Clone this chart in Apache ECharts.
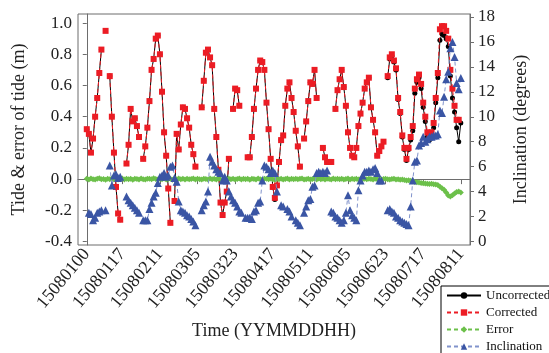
<!DOCTYPE html>
<html>
<head>
<meta charset="utf-8">
<script src="https://cdn.jsdelivr.net/npm/echarts@6/dist/echarts.min.js"></script>
<style>html,body{margin:0;padding:0;background:#fff;}#c{width:549px;height:353px;}</style>
</head>
<body>
<div id="c"></div>
<script>
// hourly samples, index = hours after 15080100
const xTickLabels = ['15080100','15080117','15080211','15080305','15080323','15080417','15080511','15080605','15080623','15080717','15080811'];
const leftTicks = [-0.4,-0.2,0.0,0.2,0.4,0.6,0.8,1.0];
const rightTicks = [0,2,4,6,8,10,12,14,16,18];

const corrected = [
0.32,0.29,0.17,0.26,0.40,0.52,0.68,0.83,null,0.95,
null,0.66,0.40,0.17,-0.05,-0.22,-0.26,null,null,0.10,
0.22,0.45,0.37,0.39,0.34,0.27,null,0.13,0.21,0.33,
0.50,0.70,0.77,0.90,0.92,0.80,0.56,0.30,0.15,-0.06,
-0.28,null,-0.14,0.29,0.19,0.35,0.46,0.45,0.39,0.33,
0.22,0.16,0.08,null,null,0.46,0.63,0.81,0.83,0.78,
0.73,0.45,0.27,0.06,-0.15,-0.23,-0.15,-0.08,0.13,null,
0.45,0.58,0.57,0.47,null,null,null,0.14,0.14,0.27,
0.45,0.58,0.70,0.76,0.75,0.70,0.49,0.32,0.13,-0.05,
-0.12,-0.04,0.11,0.25,0.28,0.47,0.58,0.62,0.52,0.43,
0.31,0.21,0.08,null,0.26,0.37,0.50,0.62,0.61,0.70,
0.52,null,null,0.20,0.14,0.11,0.11,0.11,null,0.45,
0.57,0.64,0.70,0.59,0.47,0.30,0.20,0.15,0.14,0.20,
0.34,0.42,0.49,0.58,0.62,0.65,0.46,0.38,0.30,0.15,
0.18,0.21,0.24,null,0.66,0.78,0.80,0.76,0.71,0.52,
0.43,0.28,0.20,0.13,0.20,0.27,0.34,0.58,0.64,0.67,
0.61,0.49,0.40,0.30,0.28,0.30,0.36,0.52,0.68,0.96,
0.98,0.98,0.95,0.90,0.70,0.58,0.47,0.38,0.38,null
];
const uncorrected = [
0.32,0.29,0.17,0.26,0.40,0.52,0.68,0.83,null,null,
null,0.66,0.40,0.17,-0.05,-0.22,-0.26,null,null,0.10,
0.22,0.45,0.37,0.39,0.34,0.27,null,0.13,0.21,0.33,
0.50,0.70,0.77,0.90,0.92,0.80,0.56,0.30,0.15,-0.06,
-0.28,null,-0.14,0.29,0.19,0.35,0.46,0.45,0.39,0.33,
0.22,0.16,0.08,null,null,0.46,0.63,0.81,0.83,0.78,
0.73,0.45,0.27,0.06,-0.15,-0.23,-0.15,-0.08,0.13,null,
0.45,0.58,0.57,0.47,null,null,null,0.14,0.14,0.27,
0.45,0.58,0.70,0.76,0.75,0.70,0.49,0.32,0.13,-0.05,
-0.13,-0.04,0.11,0.25,0.28,0.47,0.58,0.62,0.52,0.43,
0.31,0.21,0.08,null,0.26,0.37,0.50,0.62,0.61,0.70,
0.52,null,null,0.20,0.14,0.11,0.11,0.11,null,0.45,
0.57,0.64,0.70,0.59,0.47,0.30,0.20,0.15,0.14,0.20,
0.34,0.42,0.49,0.58,0.62,0.65,0.46,0.38,0.30,0.15,
0.18,0.21,0.24,null,0.65,0.77,0.79,0.75,0.70,0.51,
0.42,0.27,0.19,0.12,0.19,0.25,0.31,0.55,0.62,0.65,
0.58,0.46,0.37,0.27,0.25,0.27,0.33,0.49,0.65,0.89,
0.93,0.92,0.90,0.85,0.66,0.52,0.43,0.33,0.24,0.36
];
const error = [
0.003,-0.002,0.004,0.000,-0.003,0.002,0.005,-0.001,0.001,-0.004,
0.002,0.000,0.004,-0.002,0.003,-0.003,0.001,0.004,-0.002,0.002,
0.000,0.003,-0.004,0.002,0.001,-0.002,0.004,0.000,-0.003,0.003,
0.002,-0.001,0.005,0.001,-0.003,0.002,0.000,0.004,-0.002,0.001,
0.003,-0.004,0.002,0.000,0.004,-0.001,0.002,-0.003,0.003,0.000,
0.001,0.004,-0.002,0.002,0.000,-0.003,0.003,0.001,-0.002,0.004,
0.000,0.002,-0.003,0.003,0.001,-0.002,0.004,0.000,0.002,-0.001,
0.003,-0.003,0.001,0.004,-0.002,0.002,0.000,0.003,-0.004,0.002,
0.001,-0.002,0.004,0.000,-0.003,0.003,0.002,-0.001,0.004,0.000,
-0.004,0.002,0.000,0.003,-0.002,0.001,0.004,-0.003,0.002,0.000,
0.003,-0.001,0.002,0.004,-0.002,0.000,0.003,-0.003,0.001,0.002,
-0.002,0.004,0.000,0.002,-0.003,0.003,0.001,-0.002,0.004,0.000,
0.002,-0.001,0.003,-0.003,0.001,0.004,-0.002,0.002,0.000,0.003,
-0.002,0.002,0.000,0.003,-0.001,0.002,0.001,-0.002,0.003,0.000,
0.002,-0.002,0.001,0.003,0.000,-0.002,0.001,0.002,-0.003,0.000,
-0.004,-0.003,-0.006,-0.008,-0.007,-0.010,-0.014,-0.018,-0.020,-0.022,
-0.025,-0.027,-0.028,-0.030,-0.031,-0.030,-0.033,-0.035,-0.038,-0.048,
-0.058,-0.068,-0.085,-0.105,-0.112,-0.104,-0.092,-0.083,-0.080,-0.086
];
const inclination = [
null,2.3,2.2,1.7,1.9,2.3,2.4,2.5,null,2.5,
null,6.1,4.5,5.3,5.4,5.1,5.2,null,null,3.6,
3.3,3.1,2.9,2.7,2.5,2.3,null,1.7,1.7,1.7,
2.6,3.1,3.6,3.9,4.7,5.2,5.3,5.5,5.2,5.3,
6.0,6.1,5.1,4.8,3.2,2.5,2.4,2.3,2.1,2.0,
1.8,1.6,1.3,null,null,2.5,2.9,3.2,4.0,6.8,
6.4,6.1,5.8,5.6,5.5,4.9,5.2,4.9,4.0,3.6,
3.3,3.1,2.8,2.4,2.3,null,1.9,1.9,1.9,1.8,
2.4,2.5,3.1,3.2,4.9,6.1,6.0,5.8,5.5,5.7,
5.5,4.0,null,2.9,2.8,null,2.6,2.4,2.0,null,
1.7,1.5,1.3,null,2.3,2.8,3.3,3.4,4.4,4.5,
5.5,5.6,5.5,5.6,5.5,5.7,null,2.4,2.3,2.0,
1.9,1.7,1.5,1.7,2.3,3.7,2.5,2.1,1.9,1.7,
4.1,4.9,5.3,5.6,5.6,5.7,5.6,5.8,5.9,5.5,
4.9,4.9,null,null,2.5,2.6,2.4,2.3,2.0,1.9,
1.7,1.6,1.5,1.4,1.3,2.8,4.9,6.4,6.5,7.7,
7.9,8.4,8.0,8.2,8.4,8.4,8.5,8.5,8.6,10.5,
10.3,11.6,13.0,13.6,15.5,16.0,14.8,12.7,12.2,13.1
];

function hourOf(lbl){ return (parseInt(lbl.slice(4,6),10)-1)*24 + parseInt(lbl.slice(6,8),10); }
const tickHours = xTickLabels.map(hourOf);
const labelByHour = {}; xTickLabels.forEach(function(l){ labelByHour[hourOf(l)] = l; });
function pairs(arr){ return arr.map(function(v,i){ return [i, v]; }); }

const FONT = 'Liberation Serif';
const axisColor = '#6d6d6d';
const chart = echarts.init(document.getElementById('c'), null, {renderer:'canvas'});
chart.setOption({
  animation:false,
  backgroundColor:'#fff',
  grid:{left:78, right:79, top:14, bottom:108, show:true, borderColor:axisColor, borderWidth:1, backgroundColor:'transparent'},
  legend:{
    orient:'vertical', left:441, top:286, height:90, itemGap:4, itemWidth:34, itemHeight:8,
    padding:[3,6,3,5], backgroundColor:'#fff', borderColor:'#000', borderWidth:1, borderRadius:0,
    textStyle:{fontFamily:FONT, fontSize:13, color:'#111'},
    data:['Uncorrected','Corrected','Error','Inclination']
  },
  xAxis:{
    type:'value', min:-4.2, max:183.4,
    name:'Time (YYMMDDHH)', nameLocation:'middle', nameGap:77,
    nameTextStyle:{fontFamily:FONT, fontSize:18, color:'#222'},
    axisLine:{show:true, lineStyle:{color:axisColor}},
    axisTick:{show:true, customValues:tickHours, length:5, lineStyle:{color:axisColor}},
    axisLabel:{customValues:tickHours, rotate:50, fontFamily:FONT, fontSize:18, color:'#222', margin:6,
      formatter:function(v){ return labelByHour[v] || ''; }},
    splitLine:{show:false}
  },
  yAxis:[{
    type:'value', min:-0.422, max:1.058, position:'left',
    name:'Tide & error of tide (m)', nameLocation:'middle', nameGap:50, nameRotate:90,
    nameTextStyle:{fontFamily:FONT, fontSize:18, color:'#222'},
    axisLine:{show:true, lineStyle:{color:axisColor}},
    axisTick:{show:true, customValues:leftTicks, length:4, lineStyle:{color:axisColor}},
    axisLabel:{customValues:leftTicks, fontFamily:FONT, fontSize:17, color:'#222', margin:6,
      formatter:function(v){ return v.toFixed(1); }},
    splitLine:{show:false}
  },{
    type:'value', min:-0.28, max:18.24, position:'right',
    name:'Inclination (degrees)', nameLocation:'middle', nameGap:42, nameRotate:90,
    nameTextStyle:{fontFamily:FONT, fontSize:18, color:'#222'},
    axisLine:{show:true, lineStyle:{color:axisColor}},
    axisTick:{show:true, customValues:rightTicks, length:4, lineStyle:{color:axisColor}},
    axisLabel:{customValues:rightTicks, fontFamily:FONT, fontSize:17, color:'#222', margin:8,
      formatter:function(v){ return String(v); }},
    splitLine:{show:false}
  }],
  series:[{
    name:'Uncorrected', type:'line', yAxisIndex:0, data:pairs(uncorrected), connectNulls:false,
    symbol:'circle', symbolSize:5, showAllSymbol:true,
    itemStyle:{color:'#000'}, lineStyle:{color:'#000', width:1}, z:2
  },{
    name:'Corrected', type:'line', yAxisIndex:0, data:pairs(corrected), connectNulls:false,
    symbol:'rect', symbolSize:6, showAllSymbol:true,
    itemStyle:{color:'#ec1c24'}, lineStyle:{color:'#ec1c24', width:1, type:[4,3]}, z:3
  },{
    name:'Error', type:'line', yAxisIndex:0, data:pairs(error), connectNulls:false,
    symbol:'diamond', symbolSize:6, showAllSymbol:true,
    itemStyle:{color:'#6cc04a'}, lineStyle:{color:'#6cc04a', width:1, type:[4,3]}, z:4
  },{
    name:'Inclination', type:'line', yAxisIndex:1, data:pairs(inclination), connectNulls:false,
    symbol:'triangle', symbolSize:8, showAllSymbol:true,
    itemStyle:{color:'#3a55a4'}, lineStyle:{color:'#8193cc', width:1, type:[4,3]}, z:5
  }]
});
</script>
</body>
</html>
